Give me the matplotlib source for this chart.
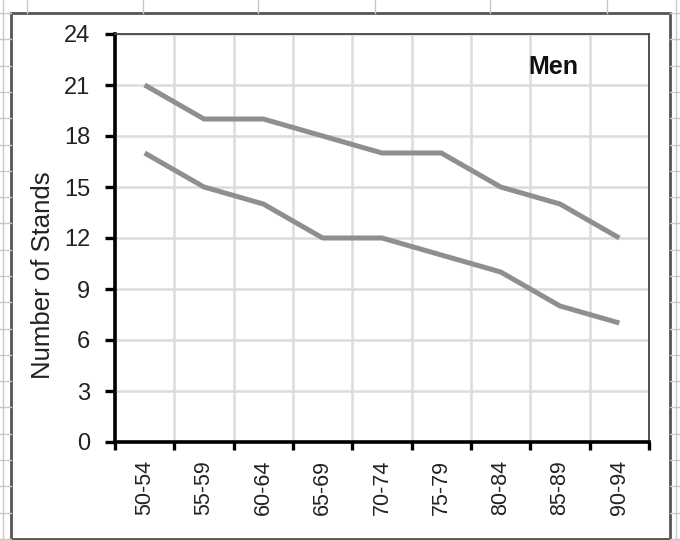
import numpy as np
import matplotlib
matplotlib.use("Agg")
import matplotlib.pyplot as plt
from matplotlib.lines import Line2D
from matplotlib.patches import Rectangle

plt.rcParams['font.family'] = ['Liberation Sans', 'DejaVu Sans']

# Datos del gráfico
age_groups = ['50-54', '55-59', '60-64', '65-69', '70-74', '75-79', '80-84', '85-89', '90-94']
upper_series = [21, 19, 19, 18, 17, 17, 15, 14, 12]
lower_series = [17, 15, 14, 12, 12, 11, 10, 8, 7]
y_ticks = [0, 3, 6, 9, 12, 15, 18, 21, 24]

W, H = 680, 540


def px_line(fig, x0, y0, x1, y1, **kw):
    """Línea decorativa en coordenadas de píxel (origen arriba a la izquierda)"""
    fig.add_artist(Line2D([x0 / W, x1 / W], [1 - y0 / H, 1 - y1 / H],
                          transform=fig.transFigure, **kw))


def main() -> None:
    fig = plt.figure(figsize=(6.8, 5.4), dpi=100)

    # Cuadrícula de la hoja de cálculo de fondo
    grid_kw = dict(color='#c8c8c8', lw=1.0)
    for x in [27, 143, 258, 375, 490, 607]:
        px_line(fig, x, 0, x, 13, **grid_kw)
    px_line(fig, 3, 0, 3, H, **grid_kw)
    px_line(fig, 676, 0, 676, H, **grid_kw)
    for y in np.arange(13, H, 26.3):
        px_line(fig, 0, y, 11, y, **grid_kw)
        px_line(fig, 670, y, W, y, **grid_kw)

    # Borde del área del gráfico
    fig.add_artist(Rectangle((11 / W, 1 - 539 / H), (670 - 11) / W, (539 - 13) / H,
                             transform=fig.transFigure, facecolor='white',
                             edgecolor='#555555', lw=2.0, zorder=0.5))

    ax = fig.add_axes([115 / W, 1 - 442 / H, (649 - 115) / W, (442 - 34) / H])
    ax.set_zorder(2)

    x = np.arange(len(age_groups))
    ax.plot(x, upper_series, color='#8f8f8f', lw=3.6, solid_capstyle='butt', zorder=3)
    ax.plot(x, lower_series, color='#8f8f8f', lw=3.6, solid_capstyle='butt', zorder=3)

    ax.set_xlim(-0.5, len(age_groups) - 0.5)
    ax.set_ylim(0, 24)

    ax.set_yticks(y_ticks)
    ax.set_xticks(x)
    ax.set_xticklabels(age_groups, rotation=90, fontsize=15.5)
    ax.set_xticks(np.arange(-0.5, len(age_groups)), minor=True)
    ax.tick_params(axis='x', which='major', length=0, pad=13)
    ax.tick_params(axis='x', which='minor', length=6, width=2.4, direction='out', color='black')
    ax.tick_params(axis='y', which='major', length=7, width=2.4, direction='out',
                   labelsize=17, pad=11, color='black', labelcolor='#222222')
    ax.tick_params(axis='x', labelcolor='#222222')

    ax.grid(True, axis='y', which='major', color='#dcdcdc', lw=1.8)
    ax.grid(True, axis='x', which='minor', color='#dcdcdc', lw=1.8)
    ax.set_axisbelow(True)

    for side in ['left', 'bottom']:
        ax.spines[side].set_color('black')
        ax.spines[side].set_linewidth(2.6)
    for side in ['top', 'right']:
        ax.spines[side].set_color('#444444')
        ax.spines[side].set_linewidth(1.3)

    ax.set_ylabel('Number of Stands', fontsize=18.5, color='#222222', va='center')
    ax.yaxis.set_label_coords(-0.135, 0.41)

    ax.text(0.82, 0.918, 'Men', transform=ax.transAxes, ha='center', va='center',
            fontsize=18, fontweight='bold', color='#111111')

    fig.savefig('out.png', dpi=100)


if __name__ == '__main__':
    main()
